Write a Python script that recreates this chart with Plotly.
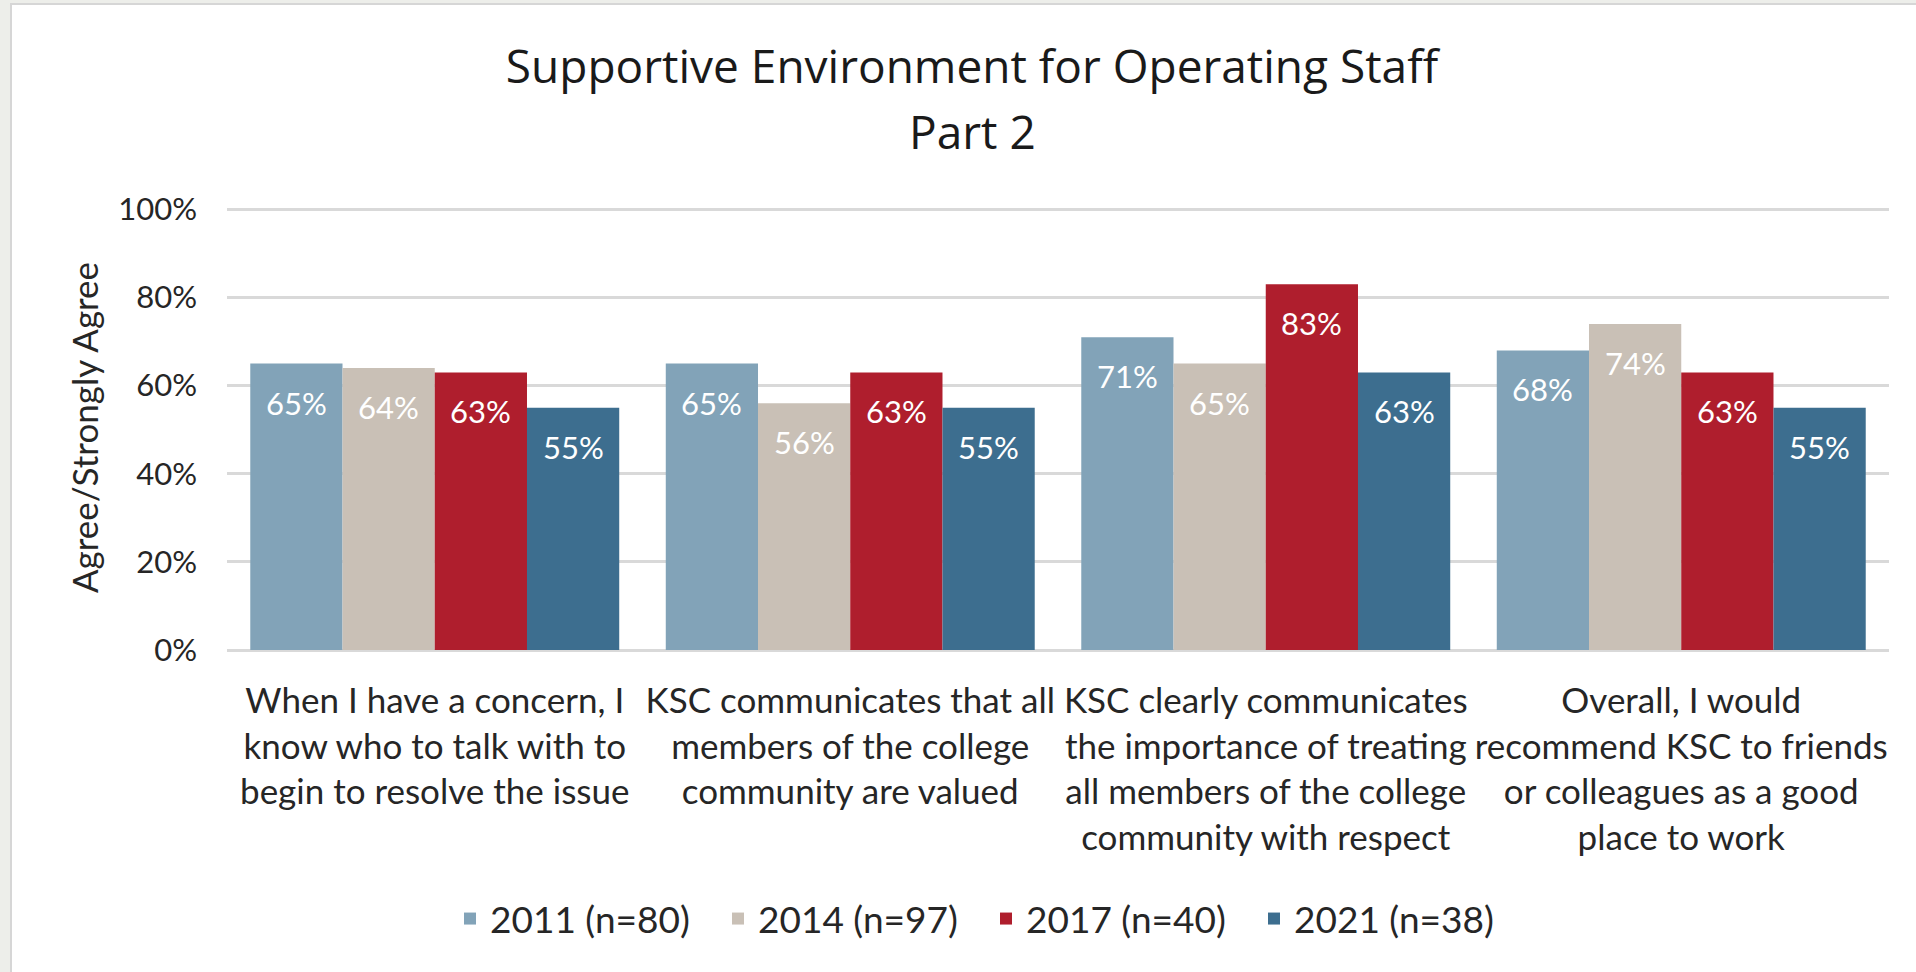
import plotly.graph_objects as go

W, H = 1916, 972
ML, MR, MT, MB = 227, 27, 205, 322

title_line1 = "Supportive Environment for Operating Staff"
title_line2 = "Part 2"
y_title = "Agree/Strongly Agree"

categories = [
    "When I have a concern, I<br>know who to talk with to<br>begin to resolve the issue",
    "KSC communicates that all<br>members of the college<br>community are valued",
    "KSC clearly communicates<br>the importance of treating<br>all members of the college<br>community with respect",
    "Overall, I would<br>recommend KSC to friends<br>or colleagues as a good<br>place to work",
]
series_names = ["2011 (n=80)", "2014 (n=97)", "2017 (n=40)", "2021 (n=38)"]
v2011 = [0.65, 0.65, 0.71, 0.68]
v2014 = [0.64, 0.56, 0.65, 0.74]
v2017 = [0.63, 0.63, 0.83, 0.63]
v2021 = [0.55, 0.55, 0.63, 0.55]
colors = ["#82A3B8", "#C9C0B6", "#AF1E2D", "#3D6E8F"]

TXT = "#262626"
FONT = "Lato"
BARGAP = 0.112

fig = go.Figure()
xs = list(range(len(categories)))
all_vals = [v2011, v2014, v2017, v2021]
for name, vals, col in zip(series_names, all_vals, colors):
    fig.add_trace(go.Bar(x=xs, y=vals, name=name, marker=dict(color=col, line=dict(width=0))))

# value labels inside the top of each bar
bw = (1 - BARGAP) / len(all_vals)
for i, vals in enumerate(all_vals):
    for j, v in enumerate(vals):
        fig.add_annotation(x=j + (i - 1.5) * bw, y=v, text=f"{v:.0%}", showarrow=False,
                           yanchor="middle", yshift=-39,
                           font=dict(family=FONT, size=31, color="#FFFFFF"))

pw = W - ML - MR
ph = H - MT - MB
# grey window edge plus white chart area
fig.add_shape(type="rect", xref="paper", yref="paper",
              x0=(11 - ML) / pw, x1=(W + 5 - ML) / pw,
              y0=(H - MB - (H + 5)) / ph, y1=(H - MB - 4) / ph,
              fillcolor="#FFFFFF", line=dict(color="#D6D6D6", width=2), layer="below")

fig.add_annotation(text=title_line2, xref="paper", yref="paper",
                   x=(972 - ML) / pw, y=(H - MB - 131) / ph, showarrow=False,
                   xanchor="center", yanchor="middle",
                   font=dict(family="Open Sans", size=46, color="#1A1A1A"))

fig.update_layout(
    width=W, height=H,
    margin=dict(l=ML, r=MR, t=MT, b=MB),
    paper_bgcolor="#EDEEEA", plot_bgcolor="rgba(0,0,0,0)",
    barmode="group", bargap=BARGAP, bargroupgap=0,
    title=dict(text=title_line1, x=972 / W, xanchor="center", y=1 - 67 / H, yanchor="middle",
               font=dict(family="Open Sans", size=46, color="#1A1A1A")),
    font=dict(family=FONT, size=31, color=TXT),
    legend=dict(orientation="h", x=(986 - ML) / pw, xanchor="center", y=(H - MB - 919) / ph,
                yanchor="middle", font=dict(family=FONT, size=37, color=TXT),
                itemwidth=30, entrywidth=223, traceorder="normal", bgcolor="rgba(0,0,0,0)"),
    showlegend=True,
)
fig.update_xaxes(range=[-0.5, len(categories) - 0.5], tickvals=xs, ticktext=categories,
                 tickangle=0, showgrid=False, zeroline=False, showline=False, automargin=False,
                 ticks="", ticklabelstandoff=27, tickfont=dict(family=FONT, size=35, color=TXT))
fig.update_yaxes(range=[0, 1.01], dtick=0.2, tickformat=".0%", showgrid=True,
                 gridcolor="#D9D9D9", gridwidth=3, zeroline=True, zerolinecolor="#D9D9D9",
                 zerolinewidth=3, showline=False, ticks="", ticklabelstandoff=29, automargin=False,
                 tickfont=dict(family=FONT, size=31, color=TXT),
                 title=dict(text=y_title, standoff=8, font=dict(family=FONT, size=35, color=TXT)))

fig.write_html("out.html", config={"displayModeBar": False},
               post_script="document.body.style.margin = '0';")
